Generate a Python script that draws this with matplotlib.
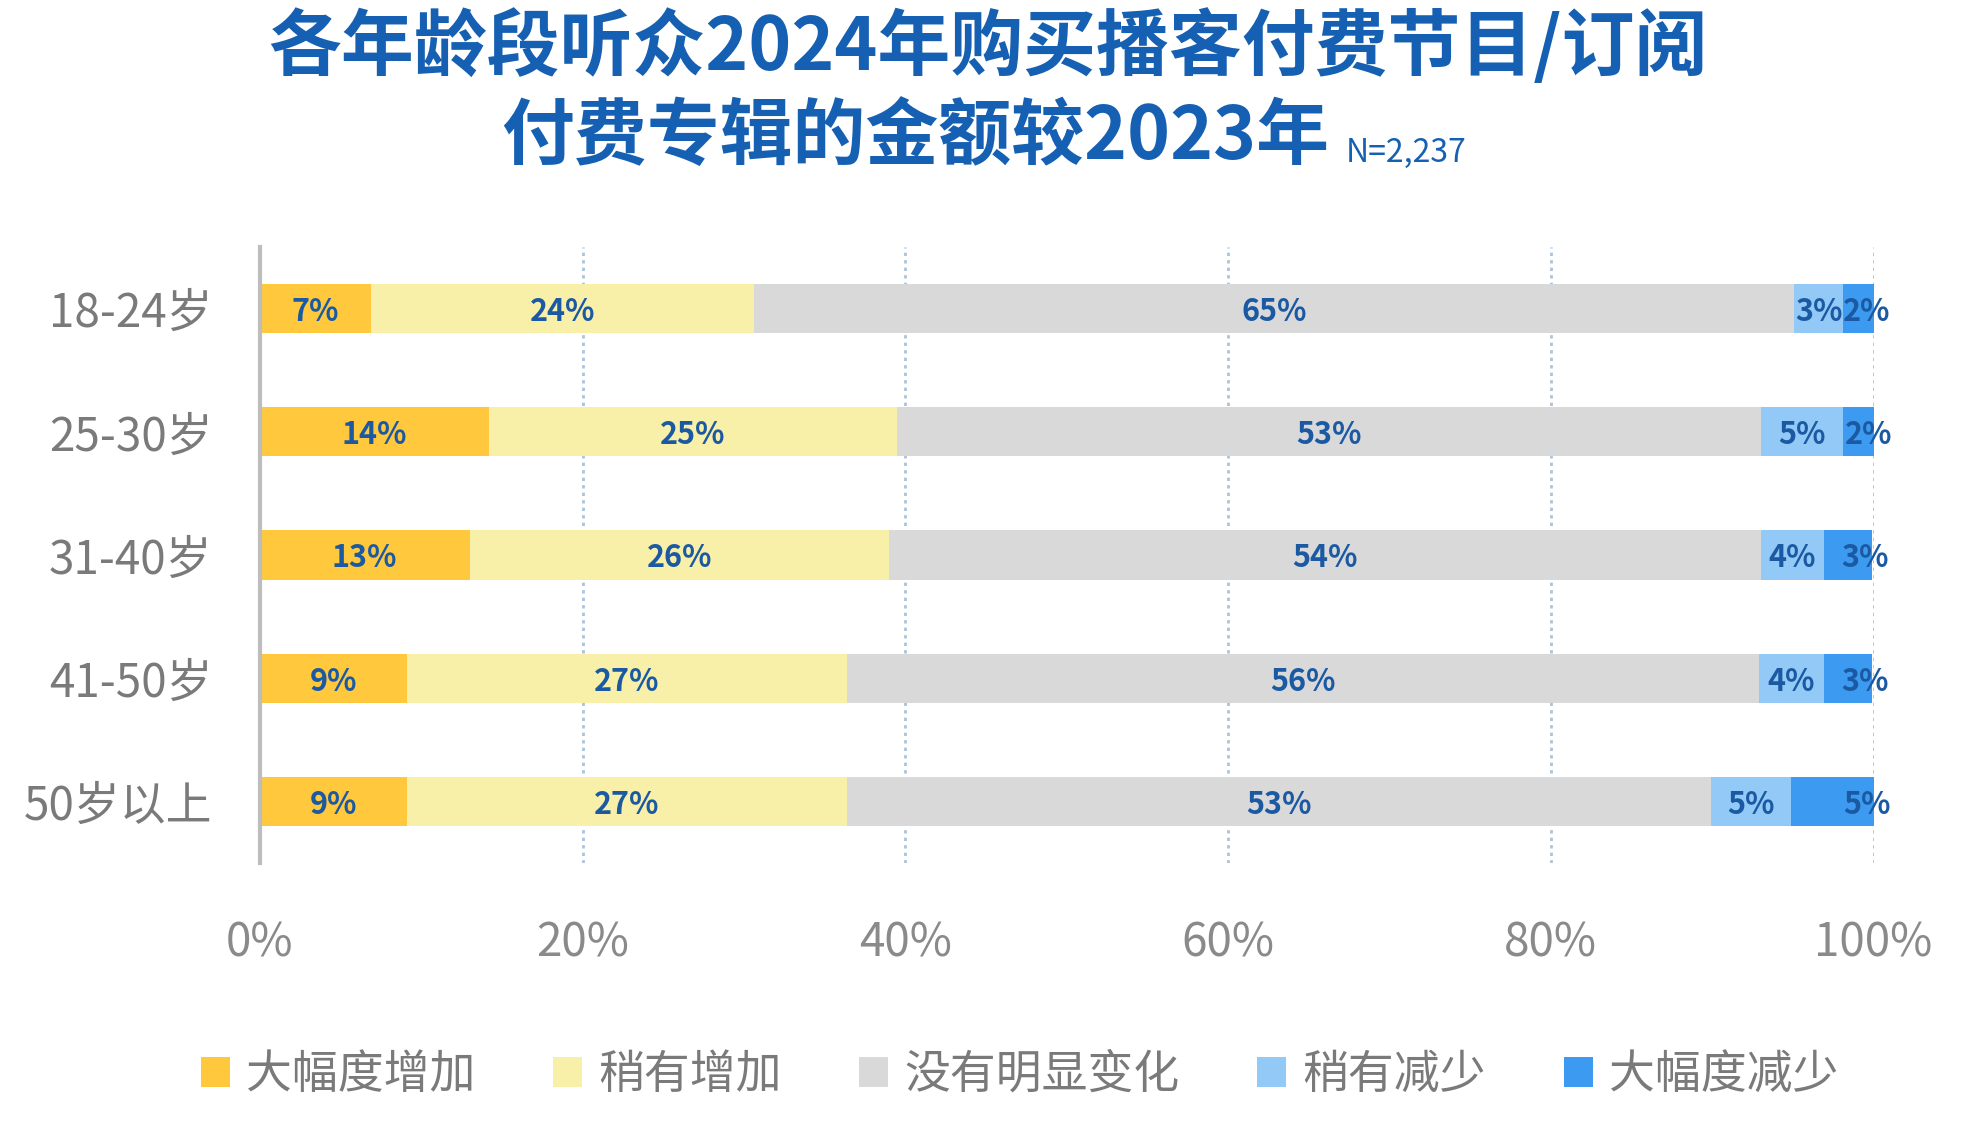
import matplotlib.pyplot as plt
from matplotlib.patches import Patch
import numpy as np

plt.rcParams['font.family'] = ['Noto Sans CJK SC', 'DejaVu Sans']

# Data
age_groups = ["18-24岁", "25-30岁", "31-40岁", "41-50岁", "50岁以上"]
series_names = ["大幅度增加", "稍有增加", "没有明显变化", "稍有减少", "大幅度减少"]

big_increase = [6.9, 14.2, 13.0, 9.1, 9.1]
small_increase = [23.7, 25.3, 26.0, 27.3, 27.3]
no_change = [64.5, 53.5, 54.0, 56.5, 53.5]
small_decrease = [3.0, 5.1, 3.9, 4.0, 5.0]
big_decrease = [1.9, 2.0, 3.0, 3.0, 5.1]

# printed labels (rounded in the source)
label_big_increase = [7, 14, 13, 9, 9]
label_small_increase = [24, 25, 26, 27, 27]
label_no_change = [65, 53, 54, 56, 53]
label_small_decrease = [3, 5, 4, 4, 5]
label_big_decrease = [2, 2, 3, 3, 5]

colors = ["#FFC83D", "#F8EFA8", "#D9D9D9", "#92C9F6", "#3C9BF0"]
label_color = "#1B5AA3"
title_color = "#1560B2"

series = [big_increase, small_increase, no_change, small_decrease, big_decrease]
labels = [label_big_increase, label_small_increase, label_no_change,
          label_small_decrease, label_big_decrease]

fig = plt.figure(figsize=(19.68, 11.36), dpi=100)
ax = fig.add_axes([0.132, 0.2403, 0.820, 0.5423])

y = np.arange(len(age_groups))
left = np.zeros(len(age_groups))
for i, (vals, labs, col) in enumerate(zip(series, labels, colors)):
    vals = np.array(vals)
    bars = ax.barh(y, vals, left=left, height=0.40, color=col, zorder=2)
    for bar, lab in zip(bars, labs):
        if i == len(series) - 1:
            # last labels sit near the right end of the bar
            tx = bar.get_x() + bar.get_width() - 0.4
        else:
            tx = bar.get_x() + bar.get_width() / 2
        ax.text(tx, bar.get_y() + bar.get_height() / 2,
                f"{lab}%", ha='center', va='center_baseline', fontsize=22,
                fontweight='bold', color=label_color, zorder=4)
    left += vals

ax.set_xlim(0, 100)
ax.set_ylim(len(age_groups) - 0.5, -0.5)
ax.set_yticks(y)
ax.set_yticklabels(age_groups, fontsize=33, color="#7A7A7A")
ax.set_xticks([0, 20, 40, 60, 80, 100])
ax.set_xticklabels([f"{v}%" for v in [0, 20, 40, 60, 80, 100]], fontsize=33, color="#8A8A8A")
ax.tick_params(axis='y', length=0, pad=34)
ax.tick_params(axis='x', length=0, pad=40)

for gx in [20, 40, 60, 80, 100]:
    ax.axvline(gx, color="#A9C3DC", linestyle=(0, (1.2, 1.5)), linewidth=2, zorder=1)

for s in ['top', 'right', 'bottom']:
    ax.spines[s].set_visible(False)
ax.spines['left'].set_color("#BDBDBD")
ax.spines['left'].set_linewidth(3)
ax.spines['left'].set_zorder(3)

# Title
fig.text(0.502, 0.958, "各年龄段听众2024年购买播客付费节目/订阅", ha='center', va='center',
         fontsize=52.5, fontweight='heavy', color=title_color)
fig.text(0.465, 0.878, "付费专辑的金额较2023年", ha='center', va='center',
         fontsize=52.5, fontweight='heavy', color=title_color)
fig.text(0.684, 0.865, "N=2,237", ha='left', va='center', fontsize=23, color=title_color)

# Legend
handles = [Patch(facecolor=c, edgecolor='none') for c in colors]
fig.legend(handles, series_names, loc='center', bbox_to_anchor=(0.518, 0.054), ncol=5,
           frameon=False, fontsize=33, handlelength=0.63, handleheight=0.63,
           handletextpad=0.35, columnspacing=1.7, labelcolor="#7A7A7A")

plt.savefig('out.png', dpi=100)
